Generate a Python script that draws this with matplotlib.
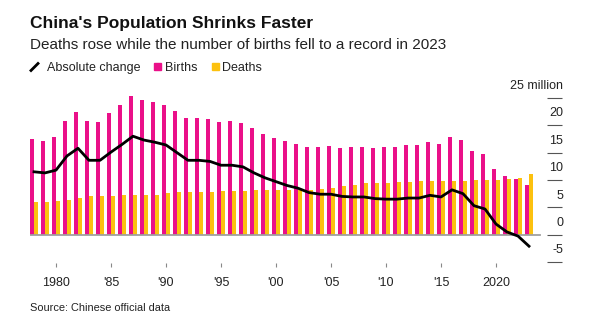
import numpy as np
import matplotlib
matplotlib.use("Agg")
import matplotlib.pyplot as plt
from matplotlib.lines import Line2D
from matplotlib.patches import Rectangle

plt.rcParams["font.family"] = ["Liberation Sans", "DejaVu Sans"]

years = list(range(1978, 2024))
births = [17.5, 17.2, 17.9, 20.8, 22.4, 20.8, 20.6, 22.2, 23.8, 25.3,
          24.6, 24.2, 23.8, 22.6, 21.3, 21.3, 21.1, 20.6, 20.8, 20.4,
          19.5, 18.4, 17.7, 17.1, 16.6, 16.0, 16.0, 16.2, 15.9, 16.0,
          16.0, 15.9, 16.0, 16.0, 16.4, 16.4, 16.9, 16.6, 17.9, 17.3,
          15.3, 14.7, 12.0, 10.7, 10.2, 9.1]
deaths = [6.0, 6.0, 6.2, 6.3, 6.7, 7.1, 7.1, 7.1, 7.3, 7.3,
          7.3, 7.3, 7.6, 7.8, 7.8, 7.8, 7.8, 8.0, 8.0, 8.0,
          8.2, 8.2, 8.2, 8.2, 8.2, 8.2, 8.3, 8.5, 8.9, 9.1,
          9.4, 9.4, 9.4, 9.6, 9.6, 9.8, 9.8, 9.8, 9.8, 9.8,
          10.0, 10.0, 10.0, 10.2, 10.4, 11.1]
change = [11.5, 11.3, 11.8, 14.4, 15.8, 13.6, 13.6, 15.1, 16.5, 18.0,
          17.3, 16.9, 16.4, 15.0, 13.6, 13.6, 13.4, 12.7, 12.7, 12.4,
          11.3, 10.4, 9.7, 9.0, 8.5, 7.7, 7.4, 7.4, 7.0, 6.9,
          6.9, 6.6, 6.5, 6.5, 6.7, 6.7, 7.2, 6.9, 8.2, 7.5,
          5.3, 4.7, 1.95, 0.5, -0.25, -2.1]

xticks = [1980, 1985, 1990, 1995, 2000, 2005, 2010, 2015, 2020]
xlabels = ["1980", "'85", "'90", "'95", "'00", "'05", "'10", "'15", "2020"]
yticks = [-5, 0, 5, 10, 15, 20, 25]
ylabels = ["-5", "0", "5", "10", "15", "20", "25 million"]

pink = "#EA1089"
yellow = "#FCC10F"

W, H = 592, 327
fig = plt.figure(figsize=(W / 100, H / 100), dpi=100)

# axes box in pixel coords
left, right, top, bottom = 30, 562, 85, 263
ax = fig.add_axes([left / W, 1 - bottom / H, (right - left) / W, (bottom - top) / H])

yr = np.array(years)
bw = 4 / 11
ax.bar(yr - bw / 2, births, width=bw, color=pink, zorder=2)
ax.bar(yr + bw / 2, deaths, width=bw, color=yellow, zorder=2)
ax.axhline(0, xmin=0, xmax=(540 - left) / (right - left), color="#a0a0a0", lw=1.3, zorder=3)
ax.plot(yr, change, color="black", lw=2.0, zorder=4, solid_joinstyle="round")

x0 = 1978 - 4 / 11
ax.set_xlim(x0, x0 + (right - left) / 11)
ax.set_ylim(-(bottom - 234.7) / 5.47, (234.7 - top) / 5.47)

# right-hand tick lines with labels sitting above them
xr = ax.get_xlim()[1]
ax.hlines(yticks, xr - 15 / 11, xr, color="#555555", lw=0.8, clip_on=False)
for v, lab in zip(yticks, ylabels):
    ax.annotate(lab, (xr, v), xytext=(1, 8.5), textcoords="offset points",
                ha="right", va="center", fontsize=9, color="#222222",
                annotation_clip=False)

ax.set_xticks(xticks)
ax.set_xticklabels(xlabels, fontsize=9, color="#222222")
ax.tick_params(axis="x", length=3, width=0.8, color="#888888", pad=7)
ax.set_yticks([])
for s in ax.spines.values():
    s.set_visible(False)
ax.patch.set_alpha(0)

# titles
fig.text(30 / W, 1 - 28 / H, "China's Population Shrinks Faster", fontsize=12.5,
         fontweight="bold", va="baseline", ha="left", color="#111111")
fig.text(30 / W, 1 - 49 / H, "Deaths rose while the number of births fell to a record in 2023",
         fontsize=11, va="baseline", ha="left", color="#222222")

# legend
fig.add_artist(Line2D([31 / W, 38 / W], [1 - 70.5 / H, 1 - 63.5 / H], color="black",
                      lw=2, transform=fig.transFigure))
fig.text(47 / W, 1 - 71 / H, "Absolute change", fontsize=9, va="baseline", color="#222222")
fig.add_artist(Rectangle((154 / W, 1 - 70 / H), 7 / W, 7 / H, color=pink,
                         transform=fig.transFigure))
fig.text(165 / W, 1 - 71 / H, "Births", fontsize=9, va="baseline", color="#222222")
fig.add_artist(Rectangle((212 / W, 1 - 70 / H), 7 / W, 7 / H, color=yellow,
                         transform=fig.transFigure))
fig.text(222 / W, 1 - 71 / H, "Deaths", fontsize=9, va="baseline", color="#222222")

fig.text(30 / W, 1 - 311 / H, "Source: Chinese official data", fontsize=7.9,
         va="baseline", color="#222222")

fig.savefig("out.png", dpi=100)
